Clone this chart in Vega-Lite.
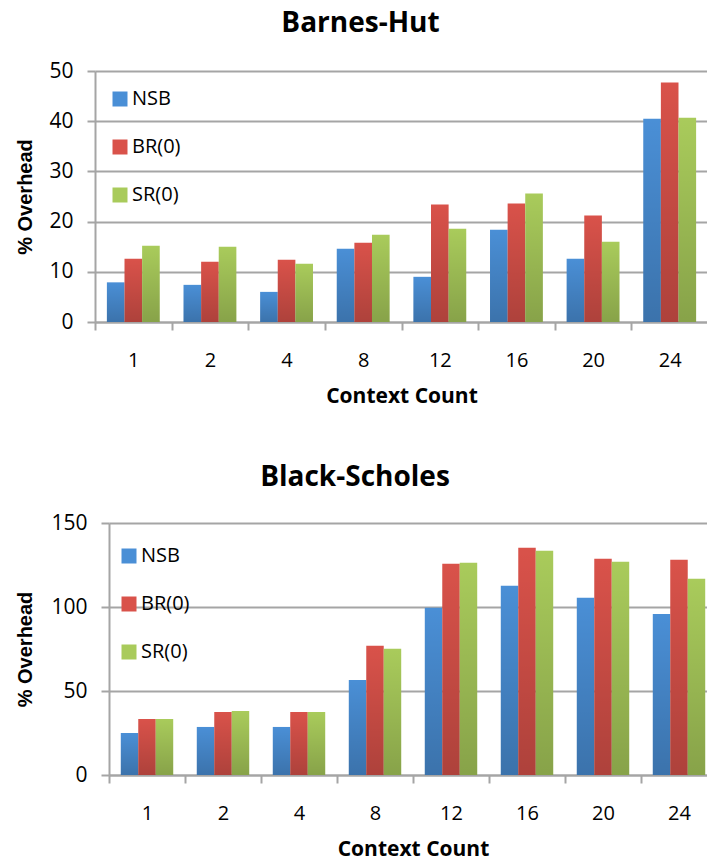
{
  "$schema": "https://vega.github.io/schema/vega-lite/v6.json",
  "padding": {"left": 14, "top": 10, "right": 0, "bottom": 0},
  "background": "white",
  "datasets": {
    "bh": [
      {"ctx": 1, "series": "NSB", "value": 7.9}, {"ctx": 1, "series": "BR(0)", "value": 12.6}, {"ctx": 1, "series": "SR(0)", "value": 15.2},
      {"ctx": 2, "series": "NSB", "value": 7.4}, {"ctx": 2, "series": "BR(0)", "value": 12.0}, {"ctx": 2, "series": "SR(0)", "value": 15.0},
      {"ctx": 4, "series": "NSB", "value": 6.0}, {"ctx": 4, "series": "BR(0)", "value": 12.4}, {"ctx": 4, "series": "SR(0)", "value": 11.6},
      {"ctx": 8, "series": "NSB", "value": 14.6}, {"ctx": 8, "series": "BR(0)", "value": 15.8}, {"ctx": 8, "series": "SR(0)", "value": 17.4},
      {"ctx": 12, "series": "NSB", "value": 9.0}, {"ctx": 12, "series": "BR(0)", "value": 23.4}, {"ctx": 12, "series": "SR(0)", "value": 18.6},
      {"ctx": 16, "series": "NSB", "value": 18.4}, {"ctx": 16, "series": "BR(0)", "value": 23.6}, {"ctx": 16, "series": "SR(0)", "value": 25.6},
      {"ctx": 20, "series": "NSB", "value": 12.6}, {"ctx": 20, "series": "BR(0)", "value": 21.2}, {"ctx": 20, "series": "SR(0)", "value": 16.0},
      {"ctx": 24, "series": "NSB", "value": 40.5}, {"ctx": 24, "series": "BR(0)", "value": 47.7}, {"ctx": 24, "series": "SR(0)", "value": 40.7}
    ],
    "bs": [
      {"ctx": 1, "series": "NSB", "value": 25.0}, {"ctx": 1, "series": "BR(0)", "value": 33.4}, {"ctx": 1, "series": "SR(0)", "value": 33.4},
      {"ctx": 2, "series": "NSB", "value": 28.6}, {"ctx": 2, "series": "BR(0)", "value": 37.5}, {"ctx": 2, "series": "SR(0)", "value": 38.1},
      {"ctx": 4, "series": "NSB", "value": 28.6}, {"ctx": 4, "series": "BR(0)", "value": 37.5}, {"ctx": 4, "series": "SR(0)", "value": 37.5},
      {"ctx": 8, "series": "NSB", "value": 56.6}, {"ctx": 8, "series": "BR(0)", "value": 76.9}, {"ctx": 8, "series": "SR(0)", "value": 75.1},
      {"ctx": 12, "series": "NSB", "value": 99.6}, {"ctx": 12, "series": "BR(0)", "value": 125.7}, {"ctx": 12, "series": "SR(0)", "value": 126.3},
      {"ctx": 16, "series": "NSB", "value": 112.6}, {"ctx": 16, "series": "BR(0)", "value": 135.3}, {"ctx": 16, "series": "SR(0)", "value": 133.5},
      {"ctx": 20, "series": "NSB", "value": 105.5}, {"ctx": 20, "series": "BR(0)", "value": 128.7}, {"ctx": 20, "series": "SR(0)", "value": 126.9},
      {"ctx": 24, "series": "NSB", "value": 95.9}, {"ctx": 24, "series": "BR(0)", "value": 128.1}, {"ctx": 24, "series": "SR(0)", "value": 116.8}
    ]
  },
  "config": {
    "view": {"stroke": null},
    "axis": {
      "labelFont": "Open Sans", "labelFontSize": 20, "labelColor": "#000000",
      "domainColor": "#A5A5A5", "domainWidth": 2,
      "tickColor": "#A5A5A5", "tickWidth": 2, "tickSize": 8,
      "gridColor": "#A5A5A5", "gridWidth": 2,
      "titleColor": "#000000"
    },
    "axisX": {"grid": false, "tickBand": "extent", "labelAngle": 0, "labelPadding": 20,
      "titleFont": "Open Sans", "titleFontWeight": "bold", "titleFontSize": 21, "titlePadding": 15},
    "axisY": {"grid": true, "labelPadding": 14, "labelFontSize": 21,
      "titleFont": "Liberation Sans", "titleFontWeight": "bold", "titleFontSize": 20},
    "title": {"font": "Open Sans", "fontSize": 28, "fontWeight": "bold", "color": "#000000", "anchor": "middle", "frame": "bounds"},
    "legend": {"orient": "none", "title": null, "symbolType": "square", "symbolSize": 225, "symbolStrokeWidth": 0, "symbolOpacity": 1,
      "labelFont": "Open Sans", "labelFontSize": 20, "labelColor": "#000000", "labelOffset": 2, "rowPadding": 28, "padding": 0}
  },
  "spacing": 58,
  "resolve": {"scale": {"color": "independent", "xOffset": "independent"}, "legend": {"color": "independent"}},
  "vconcat": [
    {
      "spacing": 0,
      "resolve": {"legend": {"color": "independent"}},
      "hconcat": [
        {"data": {"values": []}, "mark": {"type": "point"}, "width": 1, "height": 1},
        {
          "data": {"name": "bh"},
          "width": 613, "height": 251,
          "title": {"text": "Barnes-Hut", "dx": -2, "offset": 22},
          "encoding": {
            "x": {"field": "ctx", "type": "ordinal", "scale": {"paddingInner": 0, "paddingOuter": 0}, "axis": {"title": "Context Count"}},
            "xOffset": {"field": "series", "type": "nominal", "sort": ["NSB", "BR(0)", "SR(0)"], "scale": {"paddingInner": 0, "paddingOuter": 0.675}},
            "y": {"field": "value", "type": "quantitative", "scale": {"domain": [0, 50], "nice": false}, "axis": {"values": [0, 10, 20, 30, 40, 50], "title": "% Overhead", "titlePadding": 13}}
          },
          "layer": [
            {"mark": {"type": "bar"},
             "encoding": {"color": {"field": "series", "type": "nominal", "sort": ["NSB", "BR(0)", "SR(0)"],
               "scale": {"domain": ["NSB", "BR(0)", "SR(0)"], "range": ["#4A8FD6", "#D9524A", "#A9CB5B"]},
               "legend": {"legendX": 15, "legendY": 18}}}},
            {"mark": {"type": "bar", "fill": {"gradient": "linear", "x1": 0, "y1": 0, "x2": 0, "y2": 1,
               "stops": [{"offset": 0, "color": "rgba(0,0,0,0)"}, {"offset": 1, "color": "rgba(0,0,0,0.2)"}]}},
             "encoding": {}}
          ]
        }
      ]
    },
    {
      "spacing": 0,
      "resolve": {"legend": {"color": "independent"}},
      "hconcat": [
        {"data": {"values": []}, "mark": {"type": "point"}, "width": 1, "height": 1},
        {
          "data": {"name": "bs"},
          "width": 608, "height": 252,
          "title": {"text": "Black-Scholes", "dx": -12, "offset": 20},
          "encoding": {
            "x": {"field": "ctx", "type": "ordinal", "scale": {"paddingInner": 0, "paddingOuter": 0}, "axis": {"title": "Context Count"}},
            "xOffset": {"field": "series", "type": "nominal", "sort": ["NSB", "BR(0)", "SR(0)"], "scale": {"paddingInner": 0, "paddingOuter": 0.675}},
            "y": {"field": "value", "type": "quantitative", "scale": {"domain": [0, 150], "nice": false}, "axis": {"values": [0, 50, 100, 150], "title": "% Overhead", "titlePadding": 15}}
          },
          "layer": [
            {"mark": {"type": "bar"},
             "encoding": {"color": {"field": "series", "type": "nominal", "sort": ["NSB", "BR(0)", "SR(0)"],
               "scale": {"domain": ["NSB", "BR(0)", "SR(0)"], "range": ["#4A8FD6", "#D9524A", "#A9CB5B"]},
               "legend": {"legendX": 10, "legendY": 23}}}},
            {"mark": {"type": "bar", "fill": {"gradient": "linear", "x1": 0, "y1": 0, "x2": 0, "y2": 1,
               "stops": [{"offset": 0, "color": "rgba(0,0,0,0)"}, {"offset": 1, "color": "rgba(0,0,0,0.2)"}]}},
             "encoding": {}}
          ]
        }
      ]
    }
  ]
}
